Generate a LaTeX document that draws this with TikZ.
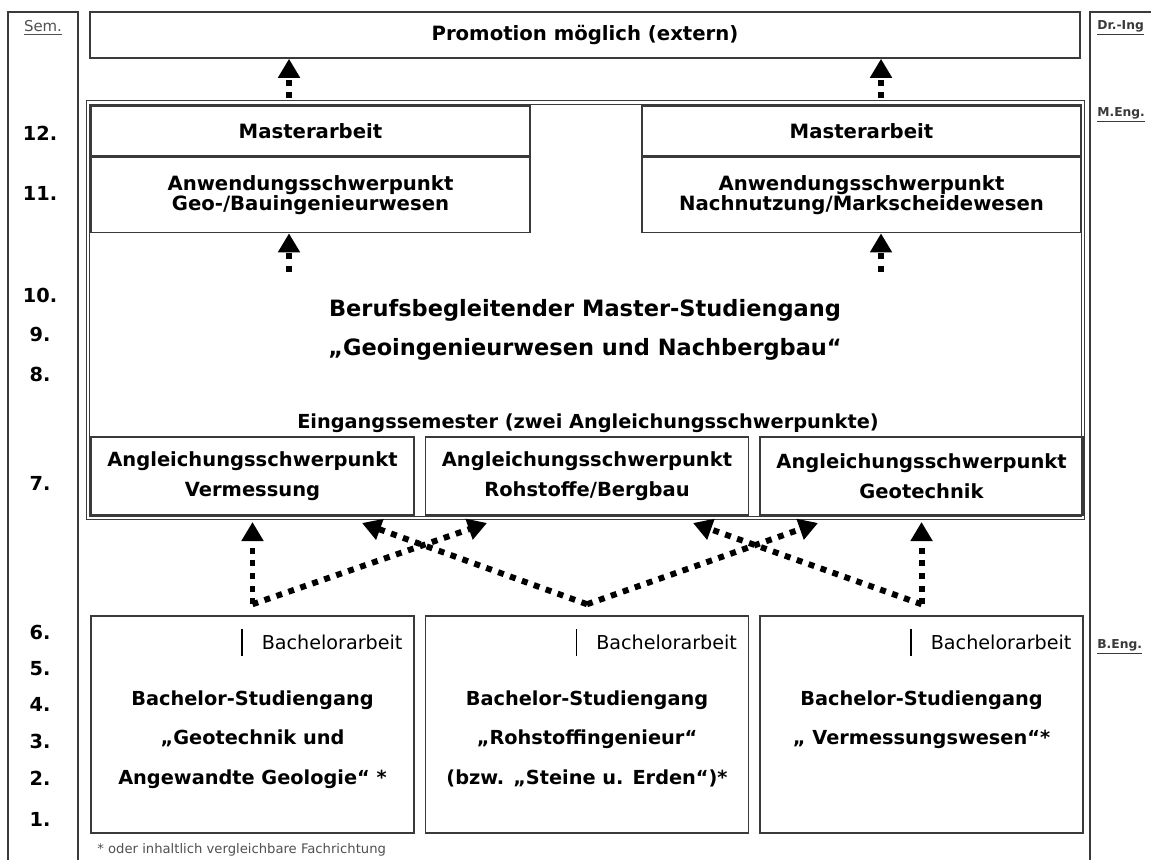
\documentclass[tikz,border=0pt]{standalone}
\usepackage{fontspec}
\setmainfont{DejaVu Sans}
\usepackage{tikz}
\usetikzlibrary{positioning, arrows.meta}
\definecolor{lineGray}{HTML}{3A3A3A}
\definecolor{noteGray}{HTML}{505050}

\begin{document}
\begin{tikzpicture}[
    x=0.02cm, y=-0.02cm,
    node distance=0.2cm,
    box/.style={draw=lineGray, line width=0.9pt, inner sep=0pt, align=center,
      font=\bfseries\fontsize{11.2}{11.8}\selectfont},
    mabox/.style={box, minimum width=8.78cm, minimum height=1cm},
    anbox/.style={box, minimum width=8.78cm, minimum height=1.5cm},
    anglbox/.style={box, minimum width=6.46cm, minimum height=1.56cm,
      font=\bfseries\fontsize{11.1}{17}\selectfont},
    bscbox/.style={box, minimum width=6.46cm, minimum height=4.34cm},
    bsctext/.style={inner sep=0pt, align=center, font=\bfseries\fontsize{11}{22.5}\selectfont},
    thesis/.style={inner sep=0pt, font=\fontsize{10.9}{12}\selectfont},
    semnum/.style={inner sep=0pt, font=\bfseries\fontsize{11}{12}\selectfont},
    degree/.style={inner sep=0pt, text=lineGray, font=\bfseries\fontsize{7}{8}\selectfont},
    note/.style={inner sep=0pt, text=noteGray, font=\fontsize{7.5}{8}\selectfont},
    arr/.style={-{Triangle[length=0.38cm, width=0.42cm]}, line width=3.4pt,
      dash pattern=on 3.4pt off 3.8pt}]
    \useasboundingbox (0,0) rectangle (1151,859);
    % side columns
    \draw[lineGray, line width=1pt] (8,880) |- (78,12) -- (78,880);
    \draw[lineGray, line width=1pt] (1090,880) |- (1180,12);
    \node[inner sep=0pt, text=noteGray, font=\fontsize{8.5}{9}\selectfont] (semhead) at (43,28) {\underline{Sem.}};
    \foreach \n/\y in {12/133, 11/193, 10/295, 9/334, 8/374, 7/483, 6/632, 5/669, 4/704, 3/741, 2/778, 1/819}
      \node[semnum] (sem\n) at (40,\y) {\n.};
    \node[degree, anchor=west] (dring) at (1097,28) {\underline{Dr.-Ing}};
    \node[degree, anchor=west] (meng) at (1097,115) {\underline{M.Eng.}};
    \node[degree, anchor=west] (beng) at (1097,647) {\underline{B.Eng.}};

    \node[box, minimum width=19.8cm, minimum height=0.92cm] (promo) at (585,35) {Promotion möglich (extern)};
    \node[draw=lineGray, line width=0.6pt, double, double distance=1.4pt,
      minimum width=19.9cm, minimum height=8.31cm, inner sep=0pt] (mframe) at (585.4,310.25) {};

    \node[mabox] (maL) at (310.5,131) {Masterarbeit};
    \node[anbox, below=0pt of maL] (anL) {Anwendungsschwerpunkt\\Geo-/Bauingenieurwesen};
    \node[mabox] (maR) at (861.5,131) {Masterarbeit};
    \node[anbox, below=0pt of maR] (anR) {Anwendungsschwerpunkt\\Nachnutzung/Markscheidewesen};

    \node[inner sep=0pt, align=center, font=\bfseries\fontsize{12.8}{22.5}\selectfont] (msc) at (585,330)
      {Berufsbegleitender Master-Studiengang\\„Geoingenieurwesen und Nachbergbau“};
    \node[semnum] (eing) at (588,423) {Eingangssemester (zwei Angleichungsschwerpunkte)};

    \node[anglbox] (angA) at (252.5,476) {Angleichungsschwerpunkt\\Vermessung};
    \node[anglbox, right=of angA] (angB) {Angleichungsschwerpunkt\\Rohstoffe/Bergbau};
    \node[anglbox, right=of angB] (angC) {Angleichungsschwerpunkt\\Geotechnik};

    \node[bscbox] (bscA) at (252.5,724.5) {};
    \node[bscbox, right=of bscA] (bscB) {};
    \node[bscbox, right=of bscB] (bscC) {};
    \foreach \b in {A,B,C}
      \node[thesis, anchor=east] (thes\b) at ([xshift=-0.24cm, yshift=-0.54cm]bsc\b.north east)
        {\rule[-0.3em]{0.9pt}{1.4em}\hspace{1em}Bachelorarbeit};
    \node[bsctext, anchor=north] (txtA) at ([yshift=-1.5cm]bscA.north)
      {Bachelor-Studiengang\\„Geotechnik und\\Angewandte Geologie“ *};
    \node[bsctext, anchor=north] (txtB) at ([yshift=-1.5cm]bscB.north)
      {Bachelor-Studiengang\\„Rohstoffingenieur“\\(bzw. „Steine u. Erden“)*};
    \node[bsctext, anchor=north] (txtC) at ([yshift=-1.5cm]bscC.north)
      {Bachelor-Studiengang\\„ Vermessungswesen“*};
    \node[note, anchor=west] (fn) at (97,850) {* oder inhaltlich vergleichbare Fachrichtung};

    \coordinate (colA) at (289,0);
    \coordinate (colB) at (881,0);
    \coordinate (srcA) at (289,272);
    \coordinate (srcB) at (881,272);
    \coordinate (pA) at ([yshift=0.22cm]bscA.north);
    \coordinate (pB) at ([yshift=0.22cm]bscB.north);
    \coordinate (pC) at ([yshift=0.22cm]bscC.north);
    \coordinate (tA) at (362,523);
    \coordinate (tB) at (487,523);
    \coordinate (tC) at (693,523);
    \coordinate (tD) at (818,523);
    \draw[arr, dash phase=5pt] (mframe.north -| colA) -- (promo.south -| colA);
    \draw[arr, dash phase=5pt] (mframe.north -| colB) -- (promo.south -| colB);
    \draw[arr] (srcA) -- (anL.south -| colA);
    \draw[arr] (srcB) -- (anR.south -| colB);
    \draw[arr, shorten >=2pt] (pA) -- (mframe.south -| pA);
    \draw[arr] (pA) -- (tB);
    \draw[arr] (pB) -- (tA);
    \draw[arr] (pB) -- (tD);
    \draw[arr] (pC) -- (tC);
    \draw[arr, shorten >=2pt] (pC) -- (mframe.south -| pC);
\end{tikzpicture}
\end{document}
